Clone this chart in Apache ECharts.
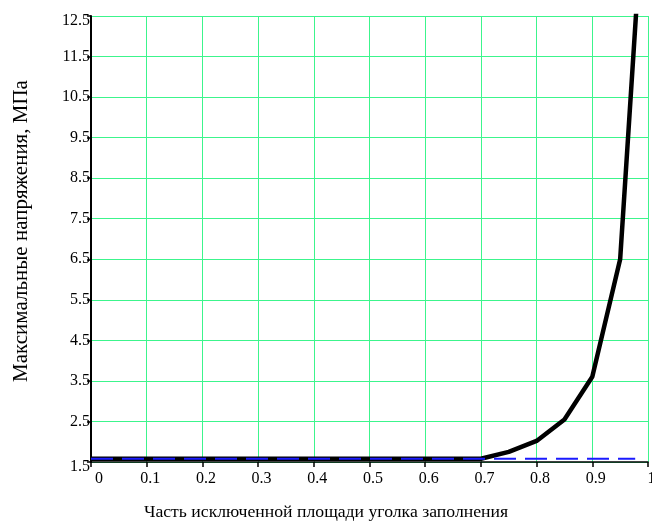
<!DOCTYPE html>
<html><head><meta charset="utf-8">
<script src="https://cdn.jsdelivr.net/npm/echarts@6/dist/echarts.min.js"></script>
<style>html,body{margin:0;padding:0;background:#fff}#c{width:652px;height:529px}</style>
</head><body><div id="c"></div>
<script>
// Data
const xValues = [0, 0.05, 0.1, 0.15, 0.2, 0.25, 0.3, 0.35, 0.4, 0.45, 0.5, 0.55, 0.6, 0.65, 0.7, 0.75, 0.8, 0.85, 0.9, 0.95, 1.0];
const stressValues = [1.58, 1.58, 1.58, 1.58, 1.58, 1.58, 1.58, 1.58, 1.58, 1.58, 1.58, 1.58, 1.58, 1.58, 1.58, 1.75, 2.02, 2.55, 3.6, 6.5, 17.1];
const refX = [0, 0.977];
const refValues = [1.58, 1.58];
const yTickValues = [1.5, 2.5, 3.5, 4.5, 5.5, 6.5, 7.5, 8.5, 9.5, 10.5, 11.5, 12.5];
const xTitle = 'Часть исключенной площади уголка заполнения';
const yTitle = 'Максимальные напряжения, МПа';

const FONT = "'Liberation Serif', 'Times New Roman', serif";
const GRID_GREEN = '#3cf58c';

const chart = echarts.init(document.getElementById('c'), null, {renderer: 'canvas'});
chart.setOption({
  animation: false,
  backgroundColor: '#fff',
  title: {
    text: xTitle,
    left: 'center',
    top: 503,
    padding: 0,
    textStyle: {fontFamily: FONT, fontSize: 17.7, fontWeight: 'normal', color: '#000'}
  },
  grid: {left: 91, right: 4, top: 16, bottom: 67, containLabel: false, outerBoundsMode: 'none'},
  xAxis: {
    type: 'value', min: 0, max: 1, interval: 0.1,
    axisLine: {show: true, onZero: false, lineStyle: {color: '#000', width: 1.5}},
    axisTick: {show: true, length: 5, lineStyle: {color: '#000', width: 1.5}},
    axisLabel: {
      show: true, margin: 9, color: '#000', fontFamily: FONT, fontSize: 16,
      padding: [0, 0, 0, 7],
      formatter: function (v) { return v === 0 ? '{z|0}' : String(+v.toFixed(1)); },
      rich: {z: {fontFamily: FONT, fontSize: 16, color: '#000', padding: [0, 0, 0, 9]}}
    },
    splitLine: {show: true, lineStyle: {color: GRID_GREEN, width: 1}}
  },
  yAxis: {
    type: 'value', min: 1.5, max: 12.5, interval: 1,
    name: yTitle, nameLocation: 'middle', nameGap: 59, nameRotate: 90,
    nameTextStyle: {fontFamily: FONT, fontSize: 21, color: '#000', padding: [0, 0, 0, 16]},
    axisLine: {show: true, onZero: false, lineStyle: {color: '#000', width: 2}},
    axisTick: {show: true, length: 4, customValues: yTickValues, lineStyle: {color: '#000', width: 1.5}},
    axisLabel: {
      show: true, margin: 1, color: '#000', fontFamily: FONT, fontSize: 16,
      customValues: yTickValues,
      formatter: function (v) {
        const s = String(+(+v).toFixed(1));
        return (v === 12.5 || v === 1.5) ? '{d|' + s + '}' : s;
      },
      rich: {d: {fontFamily: FONT, fontSize: 16, color: '#000', padding: [9, 0, 0, 0]}}
    },
    splitLine: {show: true, lineStyle: {color: GRID_GREEN, width: 1}}
  },
  series: [
    {
      type: 'line', showSymbol: false, clip: true, z: 3,
      lineStyle: {color: '#000', width: 4.5, join: 'round'},
      data: xValues.map((x, i) => [x, stressValues[i]])
    },
    {
      type: 'line', showSymbol: false, clip: true, z: 4,
      lineStyle: {color: '#1a1aff', width: 2, type: [22, 9]},
      data: refX.map((x, i) => [x, refValues[i]])
    }
  ]
});
</script>
</body></html>
